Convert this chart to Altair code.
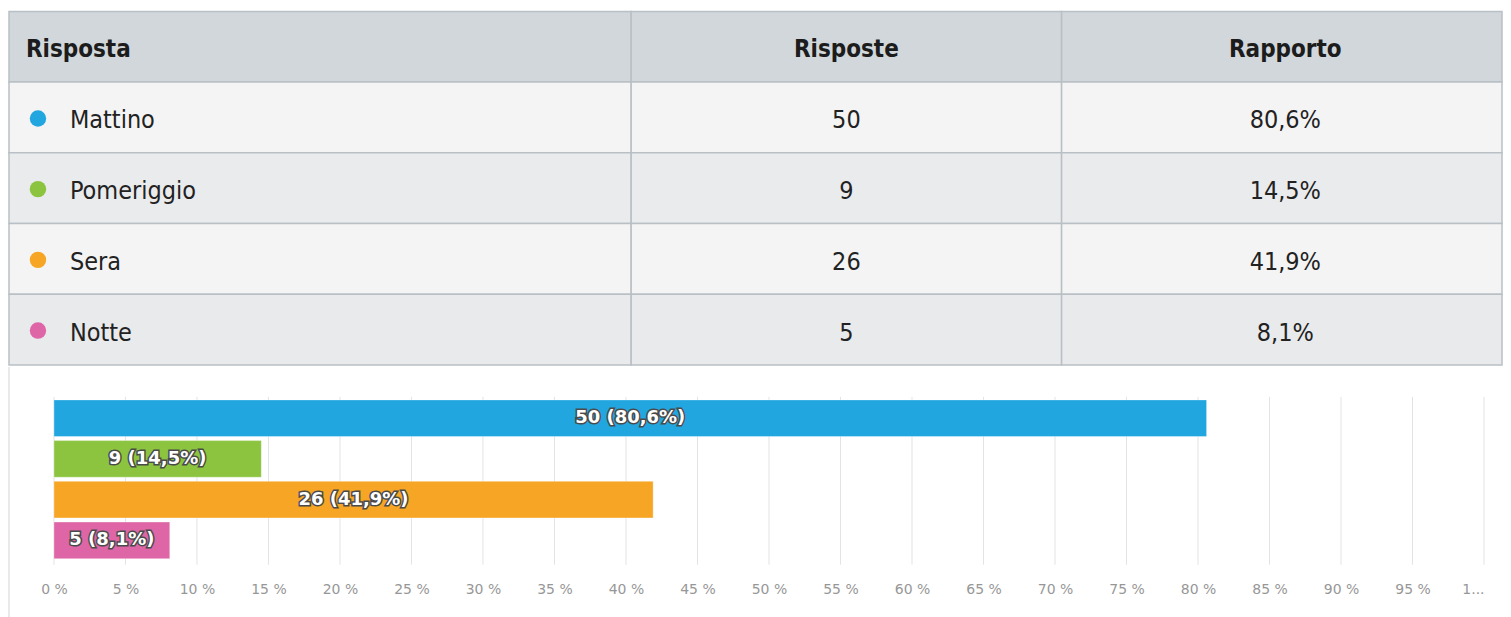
import altair as alt
import pandas as pd

# ---- data ----
categories = ["Mattino", "Pomeriggio", "Sera", "Notte"]
counts = [50, 9, 26, 5]
ratios = [80.6, 14.5, 41.9, 8.1]
colors = ["#22a6e0", "#8cc43f", "#f6a524", "#de66a6"]
headers = ["Risposta", "Risposte", "Rapporto"]
tick_values = [0, 5, 10, 15, 20, 25, 30, 35, 40, 45, 50, 55, 60, 65, 70, 75, 80, 85, 90, 95, 100]
row_bg = ["#d1d7db", "#f4f4f4", "#eaebed", "#f4f4f4", "#e9eaec"]

TFONT = "Liberation Sans Narrow, DejaVu Sans Condensed, sans-serif"
BFONT = "DejaVu Sans, sans-serif"


def pct(v):
    return f"{v:.1f}".replace(".", ",") + "%"


row_keys = ["r0", "r1", "r2", "r3", "r4"]
table_df = pd.DataFrame({
    "row": row_keys,
    "bg": row_bg,
    "c1": [headers[0]] + categories,
    "c2": [headers[1]] + [str(c) for c in counts],
    "c3": [headers[2]] + [pct(r) for r in ratios],
    "dot": ["#ffffff"] + colors,
})

TH = 354
Y = alt.Y("row:N", scale=alt.Scale(domain=row_keys, paddingInner=0, paddingOuter=0), axis=None)


def column(width, field, align, xpos, dots=False):
    base = alt.Chart(table_df).encode(y=Y)
    bg = base.mark_rect(stroke="#b9c0c5", strokeWidth=1.5).encode(
        x=alt.value(0), x2=alt.value(width), color=alt.Color("bg:N", scale=None)
    )
    head = base.transform_filter("datum.row == 'r0'").mark_text(
        align=align, baseline="middle", font=TFONT, fontSize=24, fontWeight="bold",
        color="#1c1c1c", dy=3,
    ).encode(x=alt.value(xpos), text=f"{field}:N")
    body = base.transform_filter("datum.row != 'r0'").mark_text(
        align=align, baseline="middle", font=TFONT, fontSize=25, color="#222222", dy=3,
    ).encode(x=alt.value(xpos + (44 if dots else 0)), text=f"{field}:N")
    layers = [bg, head, body]
    if dots:
        layers.append(
            base.transform_filter("datum.row != 'r0'").mark_circle(size=270, opacity=1, yOffset=1).encode(
                x=alt.value(29), color=alt.Color("dot:N", scale=None)
            )
        )
    return alt.layer(*layers).properties(width=width, height=TH)


table = alt.hconcat(
    column(623, "c1", "left", 17, dots=True),
    column(431, "c2", "center", 215.5),
    column(441, "c3", "center", 224),
    spacing=0,
    bounds="flush",
)

# ---- bar chart ----
bars_df = pd.DataFrame({
    "cat": categories,
    "count": counts,
    "ratio": ratios,
    "color": colors,
    "label": [f"{c} ({pct(r)})" for c, r in zip(counts, ratios)],
})
ticks_df = pd.DataFrame({"t": tick_values})

BW = 1495
BH = 205
xscale = alt.Scale(domain=[0, 100], range=[45, 1477])
yscale = alt.Scale(domain=categories, range=[33, 192], paddingInner=0.1, paddingOuter=0)

grid = alt.Chart(ticks_df).mark_rule(color="#e3e3e3", strokeWidth=1).encode(
    x=alt.X(
        "t:Q",
        scale=xscale,
        title=None,
        axis=alt.Axis(
            values=tick_values,
            labelExpr="datum.value == 100 ? '1...' : datum.value + ' %'",
            labelAlign={"condition": {"test": "datum.value == 100", "value": "right"}, "value": "center"},
            grid=False, domain=False, ticks=False, tickSize=0, labelPadding=11,
            labelColor="#979797", labelFontSize=14, labelFont=BFONT,
        ),
    ),
    y=alt.value(30),
    y2=alt.value(198),
)

bars = alt.Chart(bars_df).mark_bar(stroke="#ffffff", strokeOpacity=0.35, strokeWidth=1).encode(
    x=alt.X("ratio:Q", scale=xscale, title=None),
    y=alt.Y("cat:N", scale=yscale, axis=None, sort=categories),
    color=alt.Color("color:N", scale=None),
)

lbl_base = alt.Chart(bars_df).transform_calculate(mid="datum.ratio / 2").encode(
    x=alt.X("mid:Q", scale=xscale, title=None),
    y=alt.Y("cat:N", scale=yscale, axis=None, sort=categories),
    text="label:N",
)
lbl_shadow = lbl_base.mark_text(
    font=BFONT, fontSize=18, fontWeight="bold", color="#4a4a4a",
    stroke="#4a4a4a", strokeWidth=3, baseline="middle", align="center",
)
lbl_text = lbl_base.mark_text(
    font=BFONT, fontSize=18, fontWeight="bold", color="#ffffff", baseline="middle", align="center",
)

border = alt.Chart(pd.DataFrame({"a": [0]})).mark_rule(color="#e2e2e2", strokeWidth=1.5).encode(
    x=alt.value(0), y=alt.value(0), y2=alt.value(252)
)

barchart = alt.layer(grid, border, bars, lbl_shadow, lbl_text).properties(width=BW, height=BH)

chart = alt.vconcat(table, barchart, spacing=0).properties(
    padding={"top": 2, "left": 0, "right": 0, "bottom": 0}
).configure_view(stroke=None)

chart.save("out.html", embed_options={"renderer": "svg", "actions": False})
